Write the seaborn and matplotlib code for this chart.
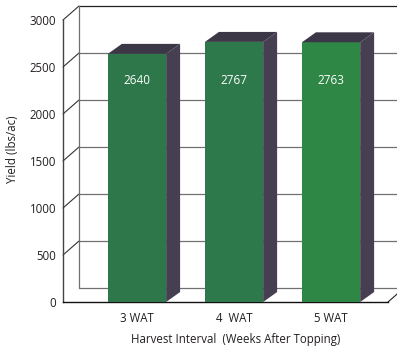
import matplotlib
matplotlib.use("Agg")
import matplotlib.pyplot as plt
import seaborn as sns
import pandas as pd
from matplotlib.patches import Polygon

# データ
categories = ["3 WAT", "4  WAT", "5 WAT"]
yields = [2640, 2767, 2763]
y_ticks = [0, 500, 1000, 1500, 2000, 2500, 3000]

# 色
front_colors = ["#2d774a", "#2e794b", "#2f8746"]
side_color = "#463f51"
top_color = "#3b3746"
wall_color = "#707070"
text_color = "#231f20"

# 疑似3Dの奥行き (x: カテゴリ単位, y: 収量単位)
WALL_DX, WALL_DY = 0.165, 149
BAR_DX, BAR_DY = 0.144, 106
LABEL_Y = 2360

sns.set_theme(style="white")
plt.rcParams["font.family"] = ["Open Sans", "DejaVu Sans"]

fig = plt.figure(figsize=(3.97, 3.5), dpi=100)
ax = fig.add_axes([63 / 397, 48 / 350, 325 / 397, 282 / 350])

df = pd.DataFrame({"interval": categories, "yield": yields})
sns.barplot(data=df, x="interval", y="yield", hue="interval", palette=front_colors,
            width=0.6, saturation=1, legend=False, ax=ax, zorder=3,
            edgecolor="none", linewidth=0)

x0, x1 = -0.763, 2.587
ax.set_xlim(x0, x1)
ax.set_ylim(0, 3000)

# 奥の壁と左の壁
for v in y_ticks:
    c = "#222222" if v == y_ticks[-1] else wall_color
    ax.plot([x0 + WALL_DX, x1 + WALL_DX], [v + WALL_DY] * 2, color=c, lw=0.9,
            clip_on=False, zorder=0)
for v in y_ticks[1:]:
    ax.plot([x0, x0 + WALL_DX], [v, v + WALL_DY], color="#333333", lw=0.8,
            clip_on=False, zorder=0)
ax.plot([x0 + WALL_DX] * 2, [WALL_DY, y_ticks[-1] + WALL_DY], color=wall_color, lw=0.9,
        clip_on=False, zorder=0)
ax.plot([x1, x1 + WALL_DX], [0, WALL_DY], color="#222222", lw=0.8, clip_on=False, zorder=0)

# 棒の側面・上面と値ラベル
for patch, v in zip(list(ax.patches), yields):
    x, w, h = patch.get_x(), patch.get_width(), patch.get_height()
    side = Polygon([(x + w, 0), (x + w + BAR_DX, BAR_DY), (x + w + BAR_DX, h + BAR_DY), (x + w, h)],
                   closed=True, facecolor=side_color, edgecolor="none", zorder=3, clip_on=False)
    top = Polygon([(x, h), (x + BAR_DX, h + BAR_DY), (x + w + BAR_DX, h + BAR_DY), (x + w, h)],
                  closed=True, facecolor=top_color, edgecolor="none", zorder=3, clip_on=False)
    ax.add_patch(side)
    ax.add_patch(top)
    ax.text(x + w / 2, LABEL_Y, f"{v}", color="white", ha="center", va="center",
            fontsize=8.5, zorder=4)

# 軸
sns.despine(ax=ax)
ax.spines["left"].set_color("#444444")
ax.spines["bottom"].set_color("#111111")
ax.spines["left"].set_linewidth(1)
ax.spines["bottom"].set_linewidth(1)
ax.set_yticks(y_ticks)
ax.tick_params(length=0, labelsize=8.3, colors=text_color)
ax.tick_params(axis="y", pad=5)
ax.tick_params(axis="x", pad=7)

ax.set_xlabel("Harvest Interval  (Weeks After Topping)", fontsize=8.3, color=text_color)
ax.set_ylabel("Yield (lbs/ac)", fontsize=8.3, color=text_color)
ax.xaxis.set_label_coords(0.53, -0.11)
ax.yaxis.set_label_coords(-0.135, 0.54)

fig.savefig("out.png", dpi=100)
